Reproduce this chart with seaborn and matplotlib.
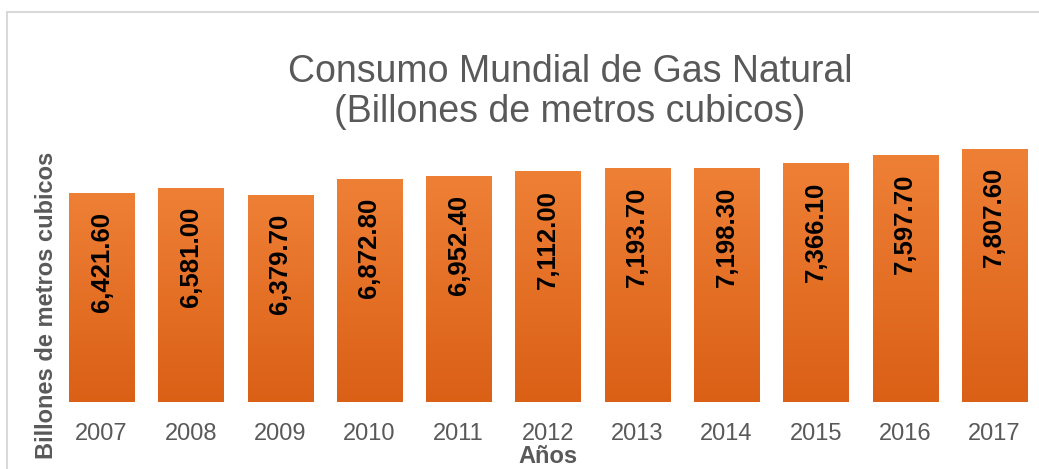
import numpy as np
import pandas as pd
import seaborn as sns
import matplotlib.pyplot as plt
from matplotlib.colors import LinearSegmentedColormap
from matplotlib.patches import Rectangle

years = ['2007', '2008', '2009', '2010', '2011', '2012', '2013', '2014', '2015', '2016', '2017']
consumo = [6421.6, 6581.0, 6379.7, 6872.8, 6952.4, 7112.0, 7193.7, 7198.3, 7366.1, 7597.7, 7807.6]

title_text = 'Consumo Mundial de Gas Natural\n(Billones de metros cubicos)'
ylabel_text = 'Billones de metros cubicos'
xlabel_text = 'Años'

sns.set_theme(style='white')
plt.rcParams['font.family'] = ['Liberation Sans', 'DejaVu Sans']

grey = '#595959'
top_col = '#ee8036'
bottom_col = '#da6016'

df = pd.DataFrame({'year': years, 'value': consumo})

fig = plt.figure(figsize=(10.39, 4.69), dpi=100)
ax = fig.add_axes([57 / 1039, 1 - 402 / 469, 982 / 1039, 291.6 / 469])

sns.barplot(data=df, x='year', y='value', color=bottom_col, width=0.73,
            saturation=1, ax=ax)

# vertical gradient on every bar
grad_cmap = LinearSegmentedColormap.from_list('bar_grad', [bottom_col, top_col])
grad = np.linspace(0, 1, 256).reshape(-1, 1)
for p in ax.patches:
    x0, y0, w, h = p.get_x(), p.get_y(), p.get_width(), p.get_height()
    ax.imshow(grad, extent=[x0, x0 + w, y0, y0 + h], origin='lower',
              aspect='auto', cmap=grad_cmap, zorder=p.get_zorder() + 0.1)

ax.set_xlim(-0.5, len(years) - 0.5)
ax.set_ylim(0, 9000)

# value labels, rotated, inside the top of each bar
for i, v in enumerate(consumo):
    ax.annotate(f'{v:,.2f}', xy=(i, v), xytext=(0, -13), textcoords='offset points',
                ha='center', va='top', rotation=90, fontsize=18.5,
                fontweight='bold', color='black', zorder=5)

sns.despine(ax=ax, left=True, bottom=True)
ax.set_yticks([])
ax.tick_params(axis='x', length=0, pad=15, labelsize=17, labelcolor=grey)
ax.set_xlabel(xlabel_text, fontsize=17, fontweight='bold', color=grey, labelpad=0)
ax.set_ylabel('')

fig.text(47 / 1039, 1 - 305 / 469, ylabel_text, rotation=90, ha='center', va='center',
         fontsize=17, fontweight='bold', color=grey)
fig.text(570 / 1039, 1 - 92 / 469, title_text, ha='center', va='center',
         fontsize=27, color=grey, linespacing=1.15)

# light outer frame of the chart area
fig.patches.append(Rectangle((7 / 1039, -0.1), 1.1, 1 - 12 / 469 + 0.1,
                             transform=fig.transFigure, fill=False,
                             edgecolor='#d9d9d9', linewidth=1.5))

fig.savefig('out.png', dpi=100)
